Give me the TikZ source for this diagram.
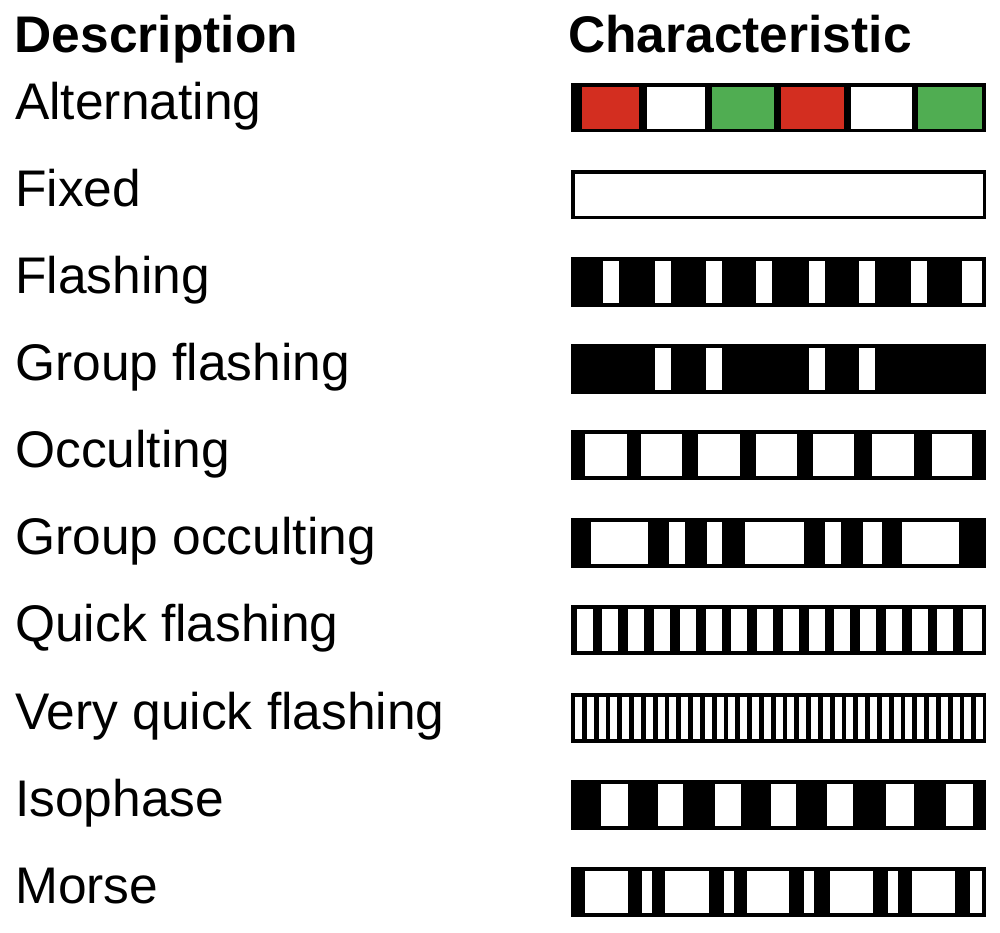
\documentclass[tikz,border=0pt]{standalone}
\usepackage{fontspec}
\setmainfont{Liberation Sans}
\definecolor{lightred}{RGB}{211,46,32}
\definecolor{lightgreen}{RGB}{80,173,82}
% frame of one light bar, #1 = top edge
\newcommand\lightbar[1]{\fill[black] (571,#1) rectangle (986,#1+49.5);}
% lit windows of one bar, #2 = top edge, #3 = list of left/right edges
\newcommand\lightwin[3][white]{%
  \foreach \a/\b in {#3} \fill[#1] (\a,#2+3.8) rectangle (\b,#2+45.7);}

\begin{document}
\begin{tikzpicture}[x=1pt,y=-1pt,
    desc/.style={anchor=base west,inner sep=0pt,font=\fontsize{51.5}{60}\selectfont},
    head/.style={desc,font=\fontsize{51.5}{60}\selectfont\bfseries}]
  \useasboundingbox (0,0) rectangle (1000,933);
  \node[head] (hdesc) at (14.5,52.7) {Description};
  \node[head] (hchar) at (568,52.7) {Characteristic};
  \foreach \txt [count=\i from 0] in {Alternating,Fixed,Flashing,Group flashing,
      Occulting,Group occulting,Quick flashing,Very quick flashing,Isophase,Morse}
    \node[desc] (row\i) at (15,119.3+87.1*\i) {\txt};
  \foreach \top in {83,170,257,344,430,518,605,693,780,867}
    \lightbar{\top}
  % Alternating
  \foreach \a/\b/\c in {582.3/639.3/lightred,646.7/705.3/white,712/774/lightgreen,
      781/844.3/lightred,851/911.7/white,918/982.3/lightgreen}
    \fill[\c] (\a,86.8) rectangle (\b,128.7);
  \lightwin{170}{574.5/982.5} % Fixed
  \lightwin{257}{603/619,655/671,706/722,756/772,809/825,859/875,911/927,962/982}
  \lightwin{344}{655/671,706/722,809/825,859/875}
  \lightwin{430}{585/627,641/682,698/740,756/797,813/854,872/914,932/972}
  \lightwin{518}{591/648,669/685,707/722,745/804,825/841,863/882,902/959}
  % Quick flashing
  \foreach \k in {0,...,14}
    \fill[white] ({576.7+25.77*\k},608.8) rectangle +(16,41.9);
  \lightwin{605}{963.3/982.3}
  % Very quick flashing
  \foreach \k in {0,...,34}
    \fill[white] ({575+11.8*\k},696.8) rectangle +(7,41.9);
  \lightwin{780}{601/628,658/683,715/741,771/796,827/853,886/914,946/973}
  \lightwin{867}{585/628,642/652,665/709,724/734,747/789,804/814,830/873,888/898,912/955,970/982}
\end{tikzpicture}
\end{document}
